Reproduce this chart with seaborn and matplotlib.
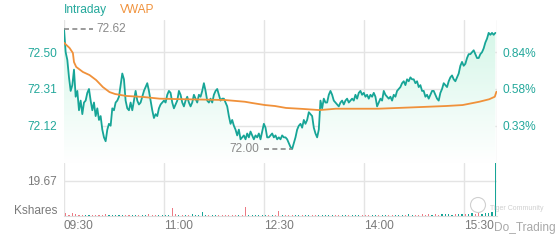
import numpy as np
import pandas as pd
import matplotlib
matplotlib.use("Agg")
import matplotlib.pyplot as plt
import seaborn as sns
from matplotlib.colors import LinearSegmentedColormap
from matplotlib.patches import Ellipse

sns.set_theme(style="white")
plt.rcParams['font.family'] = ['Liberation Sans', 'DejaVu Sans']

# ---------------- data ----------------
PRICE_STEP_MIN = 1.5  # one price sample every 1.5 minutes from 09:30
prices = [
    72.62, 72.50, 72.46, 72.37, 72.30, 72.33, 72.41, 72.27, 72.30, 72.20,
    72.25, 72.18, 72.24, 72.25, 72.29, 72.31, 72.25, 72.20, 72.24, 72.17,
    72.21, 72.15, 72.17, 72.10, 72.06, 72.04, 72.10, 72.13, 72.12, 72.21,
    72.20, 72.24, 72.25, 72.27, 72.33, 72.39, 72.36, 72.25, 72.21, 72.20,
    72.24, 72.20, 72.25, 72.30, 72.25, 72.23, 72.24, 72.27, 72.30, 72.32,
    72.34, 72.30, 72.25, 72.20, 72.16, 72.18, 72.17, 72.21, 72.23, 72.24,
    # 11:00 segment
    72.25, 72.24, 72.28, 72.30, 72.29, 72.24, 72.21, 72.23, 72.25, 72.30,
    72.28, 72.24, 72.22, 72.25, 72.27, 72.24, 72.22, 72.24, 72.28, 72.26,
    72.24, 72.28, 72.27, 72.30, 72.34, 72.30, 72.25, 72.24, 72.26, 72.24,
    72.28, 72.30, 72.31, 72.28, 72.25, 72.26, 72.26, 72.24, 72.22, 72.17,
    72.13, 72.15, 72.12, 72.10, 72.07, 72.10, 72.05, 72.06, 72.07, 72.05,
    72.08, 72.06, 72.09, 72.07, 72.05, 72.07, 72.06, 72.08, 72.05, 72.09,
    72.13, 72.11, 72.06,
    # 12:30 segment
    72.06, 72.07, 72.08, 72.06, 72.07, 72.05, 72.06, 72.05, 72.07, 72.06,
    72.06, 72.05, 72.03, 72.01, 72.00, 72.03, 72.06, 72.10, 72.12, 72.13,
    72.11, 72.15, 72.13, 72.15, 72.19, 72.18, 72.17, 72.11, 72.08, 72.06,
    72.10, 72.25, 72.21, 72.26, 72.24, 72.24, 72.28, 72.30, 72.28, 72.25,
    72.24, 72.23, 72.22, 72.24, 72.25, 72.23, 72.25, 72.26, 72.24, 72.25,
    72.26, 72.25, 72.28, 72.26, 72.29, 72.30, 72.28, 72.29, 72.27, 72.28,
    72.26, 72.28, 72.27, 72.29, 72.27, 72.22,
    # 14:00 segment
    72.24, 72.26, 72.25, 72.30, 72.28, 72.27, 72.26, 72.27, 72.25, 72.28,
    72.27, 72.30, 72.31, 72.32, 72.34, 72.35, 72.33, 72.36, 72.35, 72.37,
    72.36, 72.36, 72.34, 72.35, 72.32, 72.33, 72.30, 72.30, 72.27, 72.28,
    72.26, 72.28, 72.30, 72.30, 72.28, 72.26, 72.25, 72.29, 72.31, 72.34,
    72.33, 72.32, 72.35, 72.37, 72.38, 72.36, 72.35, 72.37, 72.39, 72.43,
    72.45, 72.43, 72.44, 72.47, 72.49, 72.49, 72.50, 72.51, 72.49, 72.47,
    72.47, 72.49, 72.50, 72.52, 72.55, 72.57, 72.60, 72.59, 72.60, 72.59,
    72.60,
]

vwap_minutes = [0, 5, 8, 9, 11, 17, 23, 29, 35, 41, 46, 56, 71, 86, 100, 145,
                163, 169, 181, 190, 200, 215, 230, 245, 283, 314, 344, 359,
                374, 383, 388, 389.5]
vwap_values = [72.549, 72.522, 72.496, 72.449, 72.424, 72.398, 72.382, 72.356,
               72.320, 72.294, 72.284, 72.274, 72.269, 72.260, 72.258, 72.253,
               72.244, 72.238, 72.227, 72.222, 72.212, 72.207, 72.201, 72.208,
               72.208, 72.215, 72.222, 72.227, 72.244, 72.257, 72.270, 72.296]

VOL_START_MIN, VOL_STEP_MIN = 1.5, 3.0
volumes_k = [
    1.6, 0.8, 1.8, 0.9, 0.6, 0.5, 0.7, 0.4, 0.6, 0.8,
    0.5, 0.6, 0.9, 0.5, 0.7, 0.4, 0.6, 0.5, 0.8, 0.6,
    0.5, 0.7, 0.4, 0.6, 0.5, 0.9, 0.6, 0.5, 0.7, 0.6,
    0.8, 0.6, 4.2, 1.2, 0.7, 0.5, 0.8, 0.6, 0.9, 0.5,
    0.7, 2.4, 0.6, 0.8, 0.5, 0.6, 0.4, 0.7, 0.5, 0.6,
    0.4, 0.5, 0.6, 0.8, 5.0, 0.7, 0.5, 0.6, 0.4, 0.5,
    0.6, 0.5, 0.7, 0.6, 2.8, 0.6, 0.5, 0.7, 0.4, 0.6,
    0.5, 0.4, 0.6, 0.5, 0.7, 0.4, 0.5, 0.6, 0.4, 0.5,
    0.7, 0.4, 0.6, 0.5, 0.8, 0.5, 0.4, 0.6, 0.5, 0.7,
    0.4, 0.6, 0.5, 0.4, 0.6, 0.5, 0.7, 0.5, 0.6, 0.8,
    0.5, 0.7, 0.6, 0.9, 0.6, 0.8, 0.7, 1.0, 0.7, 0.9,
    0.8, 1.1, 0.7, 1.0, 0.9, 1.2, 0.8, 1.1, 1.0, 1.3,
    0.9, 1.2, 1.4, 1.0, 1.5, 1.2, 1.6, 1.8, 2.2, 29.5,
]

x_tick_minutes = [0, 90, 180, 270, 360]
x_tick_labels = ["09:30", "11:00", "12:30", "14:00", "15:30"]
session_end_min = 390
price_ticks = [72.12, 72.31, 72.50]
pct_labels = ["0.33%", "0.58%", "0.84%"]
vol_ticks = [19.67]
vol_tick_labels = ["19.67"]
vol_max = 29.5

# ---------------- styling ----------------
TEAL = "#17a597"
TEAL_TXT = "#23a89b"
ORANGE = "#f0913a"
RED = "#ec7a84"
GRID = "#e4e4e4"
GRAY = "#7a7a7a"
FS = 8.6

W, H = 560, 240
fig = plt.figure(figsize=(W / 100, H / 100), dpi=100)
L, R = 64, 497
ax = fig.add_axes([L / W, 1 - 163 / H, (R - L) / W, (163 - 20) / H])
axv = fig.add_axes([L / W, 1 - 216 / H, (R - L) / W, (216 - 163) / H], sharex=ax)

minutes = np.arange(len(prices)) * PRICE_STEP_MIN
df = pd.DataFrame({"minute": minutes, "price": prices})
vdf = pd.DataFrame({"minute": vwap_minutes, "vwap": vwap_values})

ymax = 72.62 + 9 / 193.5
ymin = 72.62 - 134 / 193.5

# gradient area under price line
poly = ax.fill_between(df["minute"], df["price"], ymin, color="none", lw=0)
cmap = LinearSegmentedColormap.from_list("g", ["#ffffff", "#d3f6e7"])
grad = np.linspace(1, 0, 256).reshape(-1, 1)
im = ax.imshow(grad, extent=[0, session_end_min, ymin, ymax], aspect="auto",
               cmap=cmap, origin="upper", zorder=1)
im.set_clip_path(poly.get_paths()[0], transform=ax.transData)

sns.lineplot(data=df, x="minute", y="price", ax=ax, color=TEAL, lw=1.3, zorder=3)
sns.lineplot(data=vdf, x="minute", y="vwap", ax=ax, color=ORANGE, lw=1.3, zorder=4)

ax.set_xlim(0, session_end_min)
ax.set_ylim(ymin, ymax)
ax.set_xlabel("")
ax.set_ylabel("")
ax.set_yticks(price_ticks)
ax.set_yticklabels([f"{v:.2f}" for v in price_ticks])
ax.tick_params(axis="y", length=0, pad=5, labelcolor=TEAL_TXT, labelsize=FS)
ax.set_xticks(x_tick_minutes)
ax.tick_params(axis="x", length=0, labelbottom=False)
ax.grid(True, color=GRID, lw=1)
ax.axvline(session_end_min, color=GRID, lw=1, zorder=0)
for s in ax.spines.values():
    s.set_visible(False)

ax2 = ax.twinx()
ax2.set_ylim(ymin, ymax)
ax2.set_yticks(price_ticks)
ax2.set_yticklabels(pct_labels)
ax2.tick_params(axis="y", length=0, pad=4, labelcolor=TEAL_TXT, labelsize=FS)
for s in ax2.spines.values():
    s.set_visible(False)

# high / low annotations
hi_i = int(np.argmax(prices)); lo_i = int(np.argmin(prices))
hi_p, lo_p = prices[hi_i], prices[lo_i]
ax.plot([minutes[hi_i], minutes[hi_i] + 26], [hi_p, hi_p], ls=(0, (3, 2)),
        color="#8a8a8a", lw=1.2, zorder=5)
ax.text(minutes[hi_i] + 29.5, hi_p, f"{hi_p:.2f}", color="#8a8a8a", fontsize=FS,
        va="center", ha="left", zorder=5)
ax.plot([minutes[lo_i] - 25, minutes[lo_i]], [lo_p, lo_p], ls=(0, (3, 2)),
        color="#8a8a8a", lw=1.2, zorder=5)
ax.text(minutes[lo_i] - 30, lo_p, f"{lo_p:.2f}", color="#8a8a8a", fontsize=FS,
        va="center", ha="right", zorder=5)

# volume
vol_minutes = VOL_START_MIN + np.arange(len(volumes_k)) * VOL_STEP_MIN
price_at = np.interp(vol_minutes, minutes, prices)
price_prev = np.interp(vol_minutes - VOL_STEP_MIN, minutes, prices)
vcolors = [TEAL if a >= b else RED for a, b in zip(price_at, price_prev)]
vcolors[-1] = TEAL
axv.bar(vol_minutes, volumes_k, width=1.0, color=vcolors, lw=0, zorder=3)
axv.set_ylim(0, vol_max)
axv.set_yticks(vol_ticks)
axv.set_yticklabels(vol_tick_labels)
axv.tick_params(axis="y", length=0, pad=5, labelcolor=GRAY, labelsize=FS)
axv.set_xticks(x_tick_minutes)
axv.set_xticklabels(x_tick_labels)
axv.tick_params(axis="x", length=0, pad=3, labelcolor=GRAY, labelsize=FS)
for lab in axv.get_xticklabels():
    lab.set_horizontalalignment("left")
axv.grid(True, color=GRID, lw=1)
axv.axvline(session_end_min, color=GRID, lw=1, zorder=0)
for s in axv.spines.values():
    s.set_visible(False)
axv.spines["bottom"].set_visible(True)
axv.spines["bottom"].set_color("#dcdcdc")
axv.spines["bottom"].set_linewidth(0.8)

fig.text(57 / W, 1 - 211 / H, "Kshares", color=GRAY, fontsize=FS, ha="right", va="center")

# legend
fig.text(64 / W, 1 - 10 / H, "Intraday", color=TEAL_TXT, fontsize=FS, va="center", ha="left")
fig.text(120 / W, 1 - 10 / H, "VWAP", color=ORANGE, fontsize=FS, va="center", ha="left")

# watermark
fig.patches.append(Ellipse((478 / W, 1 - 205 / H), 15 / W, 15 / H,
                           transform=fig.transFigure, fill=False,
                           edgecolor="#d0d0d0", lw=0.8))
fig.text(490 / W, 1 - 208 / H, "Tiger Community", color="#cfcfcf", fontsize=5,
         va="center", ha="left")
fig.text(494 / W, 1 - 228 / H, "Do_Trading", color="#a8a8a8", fontsize=FS,
         va="center", ha="left")

fig.savefig("out.png", dpi=100, facecolor="white")
